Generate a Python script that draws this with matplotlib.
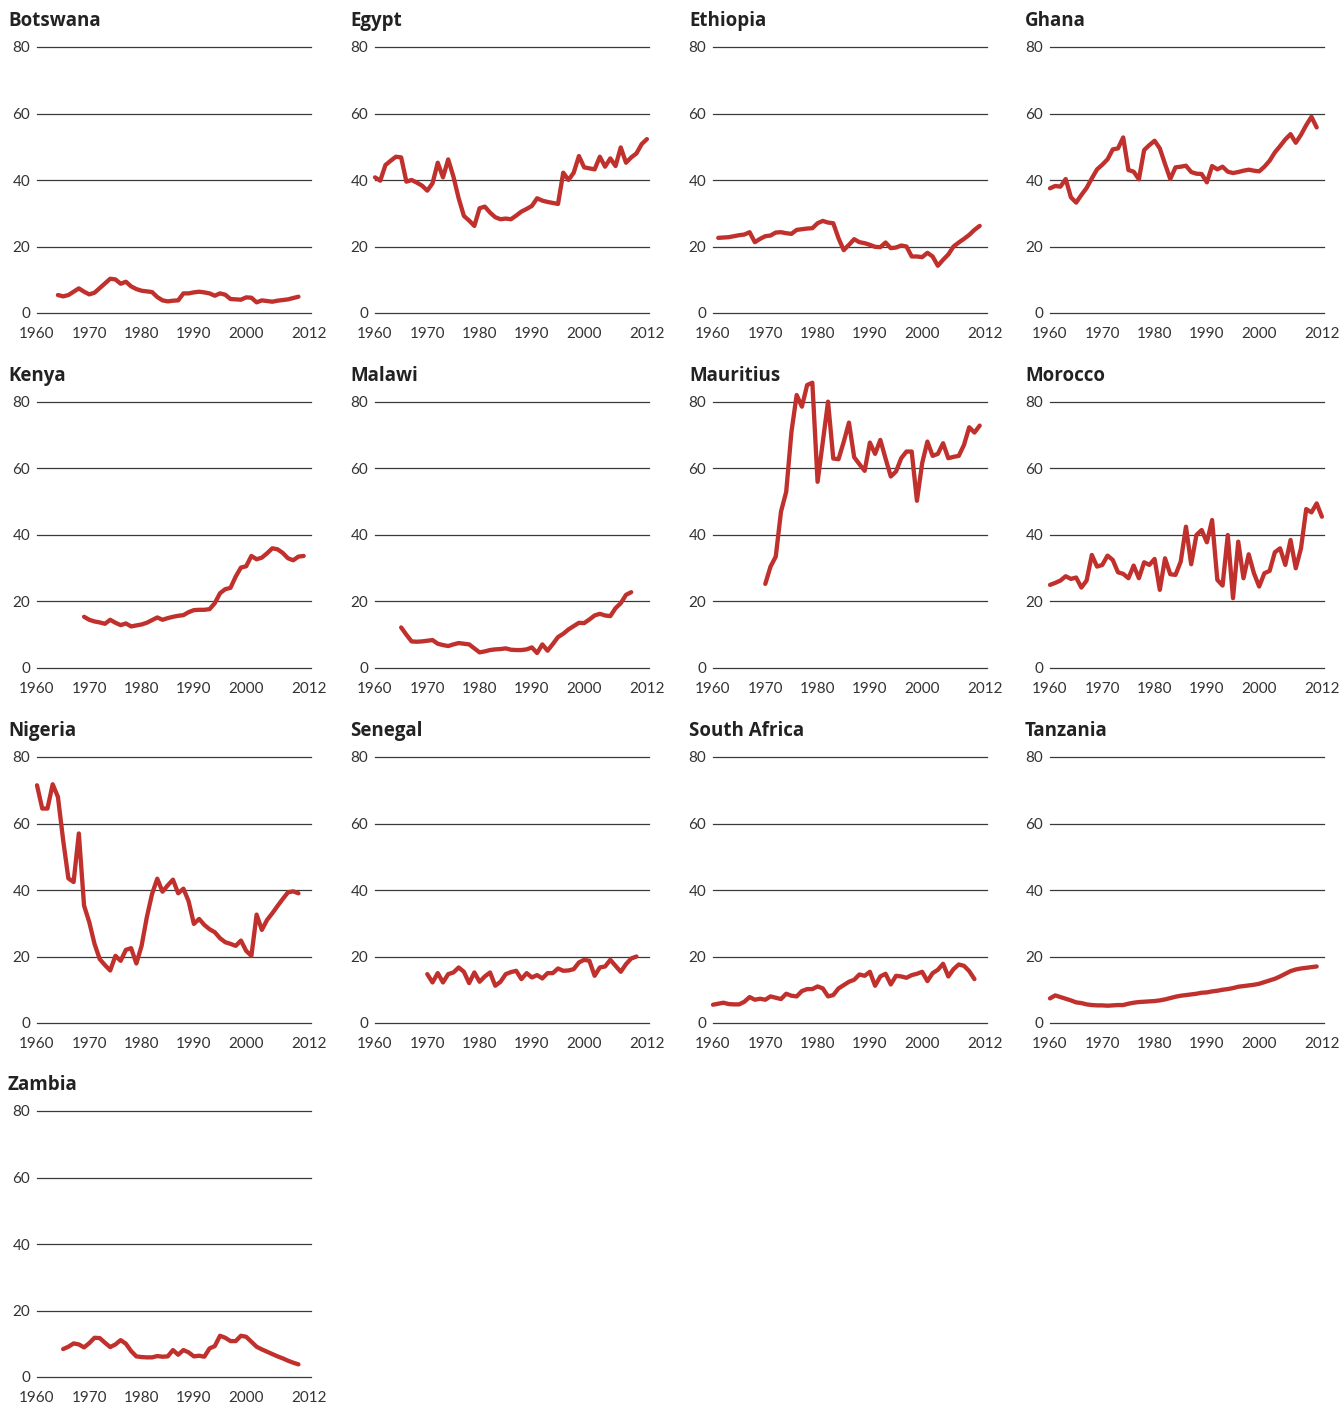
import matplotlib
matplotlib.use("Agg")
import matplotlib.pyplot as plt
import numpy as np

plt.rcParams['font.family'] = ['Lato', 'DejaVu Sans']

# Series: first year and one value per year
botswana_start = 1964
botswana = [5.4, 5.0, 5.4, 6.4, 7.4, 6.4, 5.6, 6.1, 7.5, 8.9, 10.3, 10.1, 8.8, 9.4, 8.0, 7.2,
            6.7, 6.5, 6.3, 4.8, 3.8, 3.5, 3.7, 3.8, 5.9, 5.9, 6.2, 6.4, 6.2, 5.9, 5.2, 5.9,
            5.5, 4.2, 4.1, 4.0, 4.7, 4.6, 3.2, 3.8, 3.6, 3.4, 3.7, 3.9, 4.1, 4.5, 4.9]

egypt_start = 1960
egypt = [40.8, 39.8, 44.5, 45.8, 47.0, 46.8, 39.5, 40.0, 39.2, 38.3, 36.8, 39.0, 45.2, 40.8,
         46.2, 41.0, 34.5, 29.2, 27.8, 26.2, 31.5, 32.0, 30.2, 28.8, 28.2, 28.4, 28.2, 29.3,
         30.5, 31.3, 32.2, 34.5, 33.8, 33.4, 33.1, 32.8, 42.2, 40.0, 42.2, 47.2, 43.8, 43.5,
         43.2, 47.0, 44.0, 46.5, 44.2, 49.8, 45.2, 46.8, 48.0, 50.8, 52.3]

ethiopia_start = 1961
ethiopia = [22.6, 22.7, 22.8, 23.1, 23.4, 23.6, 24.3, 21.3, 22.3, 23.1, 23.3, 24.2, 24.3, 24.0,
            23.8, 25.0, 25.2, 25.4, 25.5, 27.0, 27.7, 27.2, 27.0, 22.5, 18.9, 20.5, 22.2, 21.3,
            21.0, 20.5, 19.9, 19.8, 21.2, 19.5, 19.7, 20.3, 20.0, 17.0, 17.0, 16.8, 18.1, 17.0,
            14.2, 16.0, 17.6, 20.0, 21.2, 22.3, 23.5, 25.0, 26.2]

ghana_start = 1960
ghana = [37.5, 38.2, 38.0, 40.3, 34.8, 33.2, 35.5, 37.6, 40.5, 43.2, 44.6, 46.2, 49.2, 49.5,
         52.8, 43.0, 42.5, 40.2, 49.0, 50.5, 51.8, 49.5, 44.8, 40.3, 43.8, 44.0, 44.3, 42.4,
         41.9, 41.8, 39.3, 44.2, 43.2, 44.0, 42.5, 42.1, 42.4, 42.8, 43.1, 42.8, 42.6, 44.0,
         45.8, 48.3, 50.2, 52.2, 53.8, 51.2, 53.6, 56.5, 59.0, 55.8]

kenya_start = 1969
kenya = [15.4, 14.5, 14.0, 13.7, 13.3, 14.5, 13.6, 12.9, 13.4, 12.5, 12.8, 13.1, 13.6, 14.4,
         15.2, 14.5, 15.0, 15.4, 15.7, 15.9, 16.8, 17.4, 17.5, 17.5, 17.7, 19.5, 22.5, 23.7,
         24.1, 27.5, 30.2, 30.6, 33.7, 32.7, 33.2, 34.5, 36.0, 35.7, 34.6, 33.0, 32.4, 33.5,
         33.7]

malawi_start = 1965
malawi = [12.2, 10.0, 8.0, 7.9, 8.0, 8.2, 8.4, 7.3, 6.9, 6.6, 7.1, 7.5, 7.3, 7.1, 5.9, 4.7,
          5.0, 5.4, 5.6, 5.7, 5.9, 5.5, 5.4, 5.4, 5.6, 6.2, 4.5, 7.1, 5.2, 7.2, 9.3, 10.3,
          11.6, 12.6, 13.6, 13.5, 14.6, 15.8, 16.3, 15.8, 15.6, 18.0, 19.5, 22.0, 22.8]

mauritius_start = 1970
mauritius = [25.3, 30.5, 33.5, 47.0, 53.0, 71.0, 82.1, 78.6, 85.1, 85.8, 56.0, 68.0, 80.1,
             63.0, 62.8, 68.0, 73.8, 63.4, 61.3, 59.3, 67.8, 64.4, 68.6, 63.0, 57.6, 59.1,
             63.1, 65.1, 65.1, 50.3, 61.6, 68.1, 63.8, 64.4, 67.6, 63.1, 63.5, 63.8, 67.1,
             72.4, 70.8, 72.9]

morocco_start = 1960
morocco = [25.0, 25.6, 26.3, 27.6, 26.8, 27.2, 24.2, 26.3, 34.0, 30.5, 31.0, 33.8, 32.5,
           28.8, 28.3, 27.0, 30.8, 27.0, 31.8, 31.0, 32.8, 23.5, 33.0, 28.2, 28.0, 32.0,
           42.5, 31.2, 40.0, 41.5, 37.8, 44.5, 26.5, 24.8, 40.0, 21.0, 38.0, 27.0, 34.2,
           28.5, 24.5, 28.5, 29.2, 34.8, 36.0, 31.0, 38.5, 30.0, 36.0, 47.8, 46.8, 49.5, 45.5]

nigeria_start = 1960
nigeria = [71.5, 64.5, 64.5, 71.8, 68.0, 55.0, 43.5, 42.4, 57.0, 35.3, 30.3, 23.8, 19.2,
           17.4, 15.8, 20.2, 18.7, 22.0, 22.5, 17.9, 23.2, 31.8, 38.8, 43.4, 39.5, 41.4,
           43.1, 39.0, 40.4, 36.6, 29.8, 31.3, 29.5, 28.2, 27.3, 25.5, 24.3, 23.8, 23.2,
           24.8, 21.7, 20.2, 32.6, 28.0, 31.0, 33.0, 35.2, 37.3, 39.3, 39.6, 39.0]

senegal_start = 1970
senegal = [14.7, 12.2, 15.0, 12.2, 14.7, 15.2, 16.7, 15.4, 12.0, 15.2, 12.4, 14.0, 15.2,
           11.2, 12.4, 14.7, 15.3, 15.7, 13.2, 15.0, 13.7, 14.4, 13.4, 15.0, 15.0, 16.4,
           15.7, 15.8, 16.2, 18.2, 19.0, 18.7, 14.2, 16.7, 17.0, 19.0, 17.2, 15.4, 17.7,
           19.4, 20.0]

south_africa_start = 1960
south_africa = [5.5, 5.8, 6.1, 5.7, 5.6, 5.6, 6.4, 7.8, 7.0, 7.3, 7.0, 8.0, 7.6, 7.2, 8.8,
                8.2, 8.0, 9.6, 10.2, 10.2, 11.0, 10.4, 8.0, 8.4, 10.4, 11.4, 12.4, 13.0,
                14.6, 14.2, 15.4, 11.2, 14.0, 14.8, 11.6, 14.2, 14.0, 13.6, 14.4, 14.8, 15.4,
                12.6, 15.0, 16.0, 17.8, 14.0, 16.2, 17.6, 17.2, 15.6, 13.2]

tanzania_start = 1960
tanzania = [7.4, 8.3, 7.8, 7.3, 6.8, 6.2, 6.0, 5.6, 5.4, 5.3, 5.3, 5.2, 5.3, 5.4, 5.4,
            5.8, 6.1, 6.3, 6.4, 6.5, 6.6, 6.8, 7.1, 7.5, 7.9, 8.2, 8.4, 8.6, 8.8, 9.1,
            9.2, 9.5, 9.7, 10.0, 10.2, 10.5, 10.9, 11.1, 11.3, 11.5, 11.8, 12.3, 12.8,
            13.3, 14.0, 14.8, 15.6, 16.1, 16.4, 16.6, 16.8, 17.0]

zambia_start = 1965
zambia = [8.4, 9.1, 10.1, 9.8, 8.9, 10.2, 11.8, 11.7, 10.3, 9.0, 9.8, 11.1, 10.0, 7.8, 6.2,
          6.0, 5.9, 5.9, 6.3, 6.1, 6.2, 8.1, 6.7, 8.1, 7.4, 6.2, 6.4, 6.1, 8.6, 9.3, 12.4,
          11.8, 10.8, 10.8, 12.4, 12.1, 10.6, 9.1, 8.3, 7.6, 6.9, 6.2, 5.6, 4.9, 4.3, 3.8]

countries = ["Botswana", "Egypt", "Ethiopia", "Ghana", "Kenya", "Malawi", "Mauritius",
             "Morocco", "Nigeria", "Senegal", "South Africa", "Tanzania", "Zambia"]
series = [(botswana_start, botswana), (egypt_start, egypt), (ethiopia_start, ethiopia),
          (ghana_start, ghana), (kenya_start, kenya), (malawi_start, malawi),
          (mauritius_start, mauritius), (morocco_start, morocco), (nigeria_start, nigeria),
          (senegal_start, senegal), (south_africa_start, south_africa),
          (tanzania_start, tanzania), (zambia_start, zambia)]

y_ticks = [0, 20, 40, 60, 80]
x_ticks = [1960, 1970, 1980, 1990, 2000, 2012]

W, H = 1343, 1405
fig = plt.figure(figsize=(W / 100, H / 100), dpi=100)

col_left = [37, 375, 713, 1050]
title_left = [8, 350, 689, 1025]
row_top = [47, 402, 757, 1111]
ax_w, ax_h = 274, 266

line_color = "#c0302c"
grid_color = "#3a3a3a"
text_color = "#333333"

for i, (name, (start, vals)) in enumerate(zip(countries, series)):
    r, c = divmod(i, 4)
    left = col_left[c]
    top = row_top[r]
    ax = fig.add_axes([left / W, 1 - (top + ax_h) / H, ax_w / W, ax_h / H])
    years = np.arange(start, start + len(vals))
    ax.set_xlim(1960, 2012.4)
    ax.set_ylim(0, 80)
    for yv in y_ticks:
        ax.axhline(yv, color=grid_color, lw=0.9, zorder=1, clip_on=False)
    ax.plot(years, vals, color=line_color, lw=3.1, solid_joinstyle="round",
            solid_capstyle="round", zorder=3, clip_on=False)
    ax.set_yticks(y_ticks)
    ax.set_xticks(x_ticks)
    ax.tick_params(length=0, labelsize=11, colors=text_color, pad=5)
    ax.tick_params(axis="x", pad=10)
    for s in ax.spines.values():
        s.set_visible(False)
    ax.patch.set_alpha(0)
    fig.text(title_left[c] / W, 1 - (top - 26) / H, name, fontsize=13.5, fontweight="bold",
             family=["Open Sans", "DejaVu Sans"], color="#222222", ha="left", va="center")

fig.savefig("out.png", dpi=100)
